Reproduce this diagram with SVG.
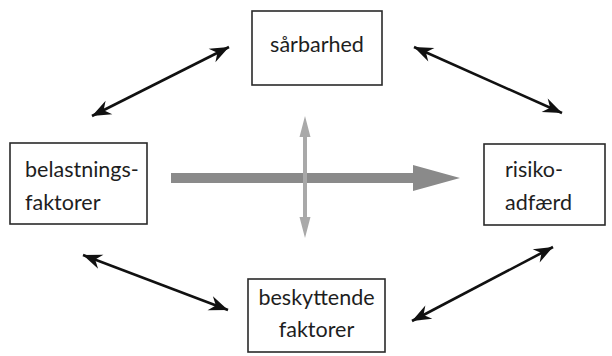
<svg xmlns="http://www.w3.org/2000/svg" width="612" height="356" viewBox="0 0 612 356">
  <defs>
    <style>
      .box { fill: #ffffff; stroke: #2a2a2a; stroke-width: 1.6; }
      .lbl { font-family: Lato, "Open Sans", "Liberation Sans", sans-serif; font-size: 21.5px; fill: #1e1e1e; }
      .link { stroke: #111111; stroke-width: 2.6; fill: none; marker-start: url(#head); marker-end: url(#head); }
    </style>
    <!-- barbed black arrowhead used at both ends of the links -->
    <marker id="head" viewBox="-20 -8 22 16" markerUnits="userSpaceOnUse" markerWidth="22" markerHeight="16" refX="0" refY="0" orient="auto-start-reverse">
      <path d="M0,0 L-19,-7.5 L-13,0 L-19,7.5 Z" fill="#111111"/>
    </marker>
  </defs>
  <rect width="612" height="356" fill="#ffffff"/>

  <!-- central influence arrows -->
  <g id="main-flow">
    <polygon points="171,173 413,173 413,165 460,178 413,191 413,183 171,183" fill="#8a8a8a"/>
  </g>
  <g id="moderation">
    <polygon points="305,116 310.5,137 307,137 307,217 310.5,217 305,238 299.5,217 303,217 303,137 299.5,137" fill="#a9a9a9"/>
  </g>

  <!-- nodes -->
  <g id="saarbarhed">
    <rect class="box" x="252" y="11" width="130" height="74"/>
    <text class="lbl" x="317" y="52" text-anchor="middle">sårbarhed</text>
  </g>
  <g id="belastningsfaktorer">
    <rect class="box" x="10" y="143" width="137" height="81"/>
    <text class="lbl" x="25" y="177">belastnings-</text>
    <text class="lbl" x="25" y="210">faktorer</text>
  </g>
  <g id="risikoadfaerd">
    <rect class="box" x="484" y="144" width="121" height="81"/>
    <text class="lbl" x="505" y="177">risiko-</text>
    <text class="lbl" x="505" y="210">adfærd</text>
  </g>
  <g id="beskyttende-faktorer">
    <rect class="box" x="248" y="279" width="137" height="73"/>
    <text class="lbl" x="316.5" y="305" text-anchor="middle">beskyttende</text>
    <text class="lbl" x="316.5" y="337" text-anchor="middle">faktorer</text>
  </g>

  <!-- two-way links between the outer nodes -->
  <g id="connectors">
    <line class="link" x1="92" y1="116" x2="229" y2="47"/>
    <line class="link" x1="414" y1="47" x2="562" y2="113"/>
    <line class="link" x1="83" y1="255" x2="228" y2="310"/>
    <line class="link" x1="412" y1="321" x2="553" y2="247"/>
  </g>
</svg>
